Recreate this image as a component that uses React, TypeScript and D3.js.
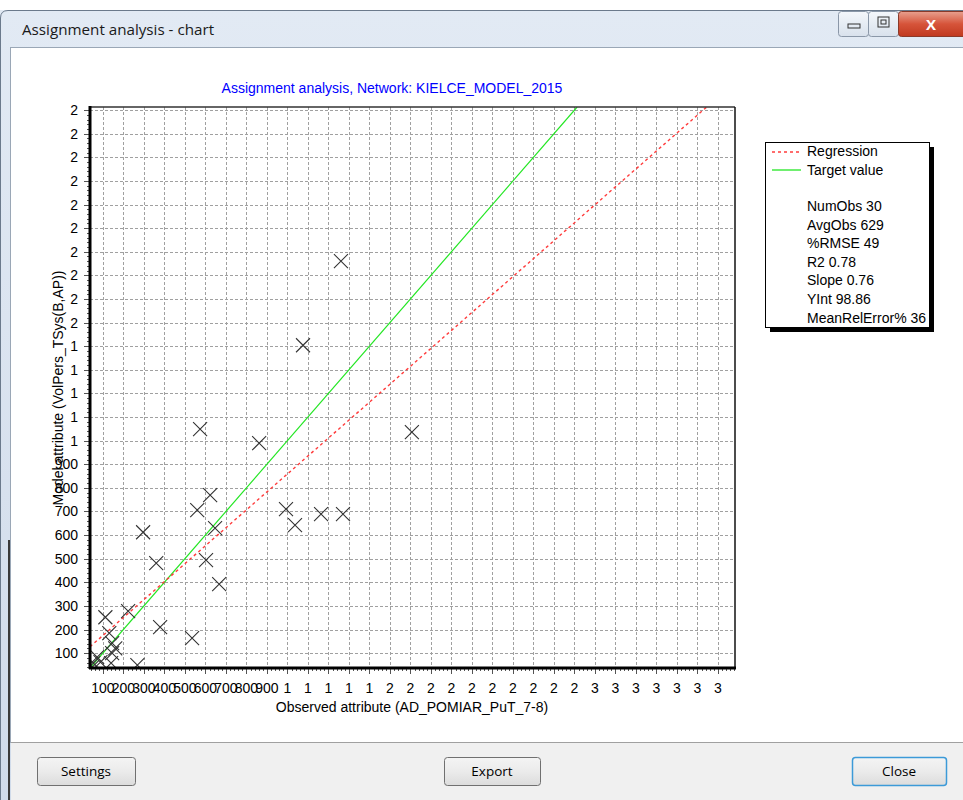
import React from "react";
import * as d3 from "d3";

// ---- data ----
const obsX = [1261, 1076, 1607, 574, 862, 623, 560, 647, 993, 1037, 1164, 1271, 296, 360, 603, 667, 379, 535, 223, 112, 131, 145, 145, 140, 72, 53, 268, 48, 88, 160];
const modY = [1760, 1404, 1036, 1049, 989, 769, 706, 629, 710, 642, 689, 689, 612, 481, 494, 392, 210, 164, 278, 252, 185, 142, 100, 58, 83, 58, 49, 41, 62, 120];
const xTicks = d3.range(100, 3101, 100);
const yTicks = d3.range(100, 2401, 100);
const xMinor = d3.range(40, 3181, 20);
const yMinor = d3.range(40, 2411, 20);
const xDomain = [37, 3183];
const yDomain = [37, 2413];
const regSlope = 0.76;
const regIntercept = 98.86;
const legendSeries = ["Regression", "Target value"];
const legendStats = ["NumObs 30", "AvgObs 629", "%RMSE 49", "R2 0.78", "Slope 0.76", "YInt 98.86", "MeanRelError% 36"];
const chartTitle = "Assignment analysis, Network: KIELCE_MODEL_2015";
const xTitle = "Observed attribute (AD_POMIAR_PuT_7-8)";
const yTitle = "Model attribute (VolPers_TSys(B,AP))";
const windowTitle = "Assignment analysis - chart";
const buttons = ["Settings", "Export", "Close"];

const fmt = (v: number) => (v < 1000 ? String(v) : String(Math.round(v / 1000)));

export default function App() {
  const L = 90, R = 735, T = 107, B = 668;
  const x = d3.scaleLinear().domain(xDomain).range([L, R]);
  const y = d3.scaleLinear().domain(yDomain).range([B, T]);
  const font = "'Liberation Sans', Arial, sans-serif";
  const uiFont = "'Open Sans', 'Noto Sans', sans-serif";

  const regX1 = xDomain[0];
  const regX2 = (yDomain[1] - regIntercept) / regSlope;
  const line = d3.line<[number, number]>().x((d) => x(d[0])).y((d) => y(d[1]));
  const regPath = line([[regX1, regSlope * regX1 + regIntercept], [regX2, yDomain[1]]]);
  const tgtPath = line([[xDomain[0], xDomain[0]], [yDomain[1], yDomain[1]]]);

  const btnPos = [
    { x: 37, w: 98 },
    { x: 444, w: 96 },
    { x: 852, w: 94 },
  ];

  const lgX = 765, lgY = 142, lgW = 164, lgH = 185;

  return (
    <svg width={963} height={800} style={{ position: "absolute", left: 0, top: 0, display: "block" }}>
      <defs>
        <linearGradient id="titleGrad" x1="0" y1="0" x2="0" y2="1">
          <stop offset="0" stopColor="#e2eaf4" />
          <stop offset="1" stopColor="#d0dbea" />
        </linearGradient>
        <linearGradient id="closeGrad" x1="0" y1="0" x2="0" y2="1">
          <stop offset="0" stopColor="#e8a08f" />
          <stop offset="0.5" stopColor="#d6543a" />
          <stop offset="1" stopColor="#c0391f" />
        </linearGradient>
        <linearGradient id="ctlGrad" x1="0" y1="0" x2="0" y2="1">
          <stop offset="0" stopColor="#f4f7fb" />
          <stop offset="1" stopColor="#d8e1ec" />
        </linearGradient>
        <linearGradient id="btnGrad" x1="0" y1="0" x2="0" y2="1">
          <stop offset="0" stopColor="#f4f4f4" />
          <stop offset="0.5" stopColor="#ebebeb" />
          <stop offset="1" stopColor="#dcdcdc" />
        </linearGradient>
        <clipPath id="plotClip">
          <rect x={L} y={T} width={R - L} height={B - T} />
        </clipPath>
      </defs>

      {/* window chrome */}
      <rect x={0} y={0} width={963} height={800} fill="#ffffff" />
      <rect x={0} y={10} width={963} height={790} fill="url(#titleGrad)" />
      <path d="M0.5,800 L0.5,18 Q0.5,10.5 8,10.5 L963,10.5" fill="none" stroke="#6b7a8c" />
      <text x={22} y={35} fontFamily={uiFont} fontSize={15.2} fill="#1a1a1a">{windowTitle}</text>
      {/* window controls */}
      <rect x={838.5} y={11.5} width={30} height={25} rx={3} fill="url(#ctlGrad)" stroke="#8a97a8" />
      <rect x={848} y={24} width={12} height={4} fill="none" stroke="#333" />
      <rect x={868.5} y={11.5} width={30} height={25} rx={3} fill="url(#ctlGrad)" stroke="#8a97a8" />
      <rect x={878} y={17} width={11} height={10} fill="none" stroke="#333" />
      <rect x={881} y={20} width={5} height={4} fill="none" stroke="#333" />
      <rect x={898.5} y={11.5} width={70} height={25} rx={3} fill="url(#closeGrad)" stroke="#8a3a2a" />
      <text x={931} y={30} textAnchor="middle" fontFamily={uiFont} fontWeight="bold" fontSize={15} fill="#ffffff">X</text>

      {/* content area */}
      <rect x={10.5} y={47.5} width={953} height={695} fill="#ffffff" stroke="#9aa7b6" />
      <rect x={11} y={743} width={952} height={57} fill="#f0f0f0" />
      <line x1={11} x2={963} y1={742.5} y2={742.5} stroke="#a0a0a0" />
      <line x1={9} x2={9} y1={540} y2={800} stroke="#3a3a3a" strokeWidth={2} />

      {buttons.map((b, i) => (
        <g key={b}>
          <rect x={btnPos[i].x + 0.5} y={757.5} width={btnPos[i].w} height={28} rx={3}
            fill="url(#btnGrad)" stroke={i === 2 ? "#3c9ad8" : "#707070"} strokeWidth={i === 2 ? 1.5 : 1} />
          <text x={btnPos[i].x + btnPos[i].w / 2} y={776} textAnchor="middle" fontFamily={uiFont} fontSize={13.5} fill="#000">{b}</text>
        </g>
      ))}

      {/* chart title */}
      <text x={392} y={93} textAnchor="middle" fontFamily={font} fontSize={14} fill="#0000ff">{chartTitle}</text>

      {/* grid */}
      <g stroke="#a0a0a0" strokeDasharray="3,2" strokeWidth={1}>
        {xTicks.map((t) => (
          <line key={"gx" + t} x1={Math.round(x(t)) + 0.5} x2={Math.round(x(t)) + 0.5} y1={T} y2={B} />
        ))}
        {yTicks.map((t) => (
          <line key={"gy" + t} x1={L} x2={R} y1={Math.round(y(t)) + 0.5} y2={Math.round(y(t)) + 0.5} />
        ))}
      </g>

      {/* minor ticks */}
      <g stroke="#555" strokeWidth={1}>
        {xMinor.map((t) => (
          <line key={"mx" + t} x1={Math.round(x(t)) + 0.5} x2={Math.round(x(t)) + 0.5} y1={B} y2={B + (t % 100 === 0 ? 6 : 3)} />
        ))}
        {yMinor.map((t) => (
          <line key={"my" + t} x1={L - (t % 100 === 0 ? 6 : 3)} x2={L} y1={Math.round(y(t)) + 0.5} y2={Math.round(y(t)) + 0.5} />
        ))}
      </g>

      {/* lines */}
      <g clipPath="url(#plotClip)">
        <path d={tgtPath || ""} fill="none" stroke="#22e622" strokeWidth={1.2} />
        <path d={regPath || ""} fill="none" stroke="#ff3c3c" strokeWidth={1.4} strokeDasharray="3,3" />
        {obsX.map((v, i) => {
          const cx = x(v), cy = y(modY[i]);
          const s = 7;
          return (
            <path key={"p" + i} d={`M${cx - s},${cy - s}L${cx + s},${cy + s}M${cx - s},${cy + s}L${cx + s},${cy - s}`}
              stroke="#333" strokeWidth={1.1} fill="none" />
          );
        })}
      </g>

      {/* axes frame */}
      <line x1={L} x2={R} y1={T} y2={T} stroke="#333" strokeWidth={1.5} />
      <line x1={R} x2={R} y1={T} y2={B} stroke="#111" strokeWidth={1.5} />
      <line x1={L} x2={L} y1={T - 1} y2={B + 1} stroke="#000" strokeWidth={3} />
      <line x1={L - 1} x2={R + 1} y1={B} y2={B} stroke="#000" strokeWidth={3} />

      {/* tick labels */}
      <g fontFamily={font} fontSize={14} fill="#000">
        {xTicks.map((t) => (
          <text key={"lx" + t} x={x(t)} y={693} textAnchor="middle">{fmt(t)}</text>
        ))}
        {yTicks.map((t) => (
          <text key={"ly" + t} x={78} y={y(t) + 5} textAnchor="end">{fmt(t)}</text>
        ))}
      </g>

      {/* axis titles */}
      <text x={412} y={712} textAnchor="middle" fontFamily={font} fontSize={14} fill="#000">{xTitle}</text>
      <text transform={`translate(63,388) rotate(-90)`} textAnchor="middle" fontFamily={font} fontSize={14} fill="#000">{yTitle}</text>

      {/* legend */}
      <rect x={lgX + 5} y={lgY + 5} width={lgW} height={lgH} fill="#000" />
      <rect x={lgX + 0.5} y={lgY + 0.5} width={lgW} height={lgH} fill="#fff" stroke="#000" strokeWidth={1} />
      <line x1={772} x2={801} y1={152} y2={152} stroke="#ff3c3c" strokeWidth={1.3} strokeDasharray="3,3" />
      <line x1={772} x2={801} y1={170} y2={170} stroke="#22e622" strokeWidth={1.3} />
      <g fontFamily={font} fontSize={14} fill="#000">
        {legendSeries.map((s, i) => (
          <text key={s} x={807} y={156 + i * 18.5}>{s}</text>
        ))}
        {legendStats.map((s, i) => (
          <text key={s} x={807} y={211 + i * 18.6}>{s}</text>
        ))}
      </g>
    </svg>
  );
}
